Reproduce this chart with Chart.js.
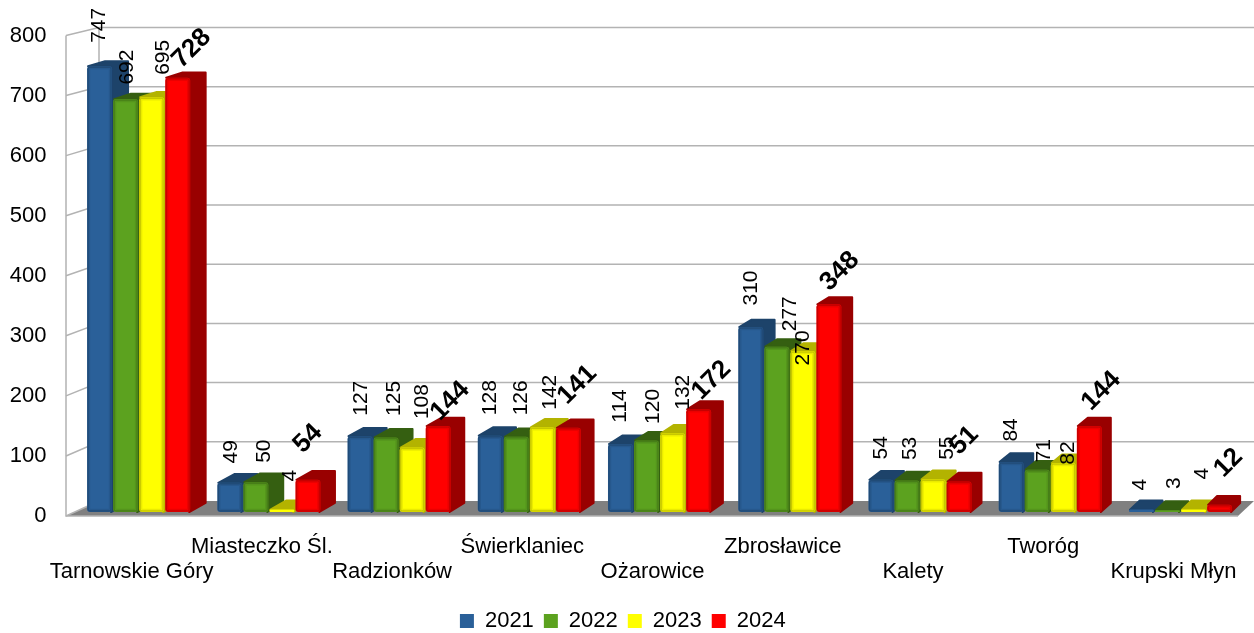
<!DOCTYPE html>
<html>
<head>
<meta charset="utf-8">
<style>
    html, body { margin: 0; padding: 0; background: #fff; }
    canvas { display: block; }
</style>
<script src="https://cdn.jsdelivr.net/npm/chart.js@4/dist/chart.umd.min.js"></script>
</head>
<body>
<canvas id="chart" width="1254" height="633"></canvas>
<script>
const categories = ['Tarnowskie Góry', 'Miasteczko Śl.', 'Radzionków', 'Świerklaniec', 'Ożarowice', 'Zbrosławice', 'Kalety', 'Tworóg', 'Krupski Młyn'];
const years = ['2021', '2022', '2023', '2024'];
const values2021 = [747, 49, 127, 128, 114, 310, 54, 84, 4];
const values2022 = [692, 50, 125, 126, 120, 277, 53, 71, 3];
const values2023 = [695, 4, 108, 142, 132, 270, 55, 82, 4];
const values2024 = [728, 54, 144, 141, 172, 348, 51, 144, 12];
const yTicks = [0, 100, 200, 300, 400, 500, 600, 700, 800];

const frontColors = ['#2a6099', '#5ca21f', '#ffff00', '#ff0000'];
const depthColors = ['#1d436a', '#355f11', '#b3b300', '#990000'];

// where the label sits relative to the top of its bar, one [dx, dy] per bar
const labelShift = [
    [[0, -41], [1, -31], [1, -38], [0, -38], [0, -38], [0, -39], [0, -32], [0, -32], [-1, -25]],
    [[2, -32], [8, -31], [8, -39], [5, -39], [7, -34], [13, -33], [3, -32], [7, -19], [7, -27]],
    [[12, -40], [8, -34], [10, -46], [8, -35], [11, -41], [0, -3], [14, -31], [5, -10], [9, -36]],
    [[14, -29], [0, -41], [12, -25], [9, -43], [13, -29], [11, -33], [5, -41], [12, -35], [9, -42]]
];

const wallFrontX = 66;
const wallBackX = 99;
const wallEndX = 1254;
const floorEndX = 1238;

// depth of a bar shrinks going right and going up
const depthX = (x) => 17 - 7 * (x - 112) / 986;
const depthY = (y) => 5 + 4 * (y - 65) / 445;
// the back wall sits above the front edge of the axis
const backY = (y) => y - (8 + 7 * (y - 34) / 480);

function drawWalls(chart) {
    const ctx = chart.ctx;
    const y = chart.scales.y;
    const zero = y.getPixelForValue(0);

    ctx.save();
    ctx.fillStyle = '#808080';
    ctx.beginPath();
    ctx.moveTo(wallFrontX, zero);
    ctx.lineTo(wallBackX, backY(zero));
    ctx.lineTo(wallEndX, backY(zero));
    ctx.lineTo(floorEndX, zero);
    ctx.closePath();
    ctx.fill();

    ctx.strokeStyle = '#b3b3b3';
    ctx.lineWidth = 1.5;
    yTicks.forEach(v => {
        const py = y.getPixelForValue(v);
        ctx.beginPath();
        ctx.moveTo(wallFrontX, py);
        ctx.lineTo(wallBackX, backY(py));
        if (v > 0) ctx.lineTo(wallEndX, backY(py));
        ctx.stroke();
    });
    ctx.beginPath();
    ctx.moveTo(wallFrontX, y.getPixelForValue(800));
    ctx.lineTo(wallFrontX, zero);
    ctx.lineTo(floorEndX, zero);
    ctx.moveTo(wallBackX, backY(y.getPixelForValue(800)));
    ctx.lineTo(wallBackX, backY(zero));
    ctx.stroke();
    ctx.restore();
}

function drawDepth(ctx, bar, color) {
    const { x, y, base, width } = bar.getProps(['x', 'y', 'base', 'width'], true);
    const left = x - width / 2 + 1;
    const right = x + width / 2 - 1;
    const dx = depthX(right);
    ctx.save();
    ctx.fillStyle = color;
    ctx.strokeStyle = color;
    ctx.lineWidth = 2;
    ctx.lineJoin = 'round';
    ctx.beginPath();
    ctx.moveTo(left, y);
    ctx.lineTo(left + dx, y - depthY(y));
    ctx.lineTo(right + dx, y - depthY(y));
    ctx.lineTo(right + dx, base - depthY(base));
    ctx.lineTo(right, base);
    ctx.lineTo(right, y);
    ctx.closePath();
    ctx.fill();
    ctx.stroke();
    ctx.restore();
}

// soft dark edge round the front of a bar
function drawEdge(ctx, bar) {
    const { x, y, base, width } = bar.getProps(['x', 'y', 'base', 'width'], true);
    if (base - y < 4) return;
    ctx.save();
    ctx.strokeStyle = 'rgba(0, 0, 0, 0.22)';
    ctx.lineWidth = 1.5;
    ctx.beginPath();
    ctx.roundRect(x - width / 2 + 1, y + 1, width - 2, base - y - 2, 2);
    ctx.stroke();
    ctx.strokeStyle = 'rgba(0, 0, 0, 0.08)';
    ctx.beginPath();
    ctx.roundRect(x - width / 2 + 2.5, y + 2.5, width - 5, base - y - 5, 1);
    ctx.stroke();
    ctx.restore();
}

// bars have to be painted left to right so each one covers the side of its neighbour
const barsPlugin = {
    id: 'bars3d',
    beforeDatasetDraw: () => false,
    beforeDatasetsDraw(chart) {
        drawWalls(chart);
        const ctx = chart.ctx;
        chart.data.datasets.forEach((ds, i) => {
            chart.getDatasetMeta(i).data.forEach(bar => {
                drawDepth(ctx, bar, depthColors[i]);
                bar.draw(ctx);
                drawEdge(ctx, bar);
            });
        });
    }
};

const labelPlugin = {
    id: 'barLabels',
    afterDatasetsDraw(chart) {
        const ctx = chart.ctx;
        ctx.save();
        ctx.fillStyle = '#000';
        ctx.textAlign = 'center';
        ctx.textBaseline = 'middle';
        chart.data.datasets.forEach((ds, i) => {
            const strong = i === 3;
            chart.getDatasetMeta(i).data.forEach((bar, j) => {
                const { x, y } = bar.getProps(['x', 'y'], true);
                const shift = labelShift[i][j];
                ctx.save();
                ctx.translate(x + shift[0], y + shift[1]);
                ctx.rotate(strong ? -Math.PI / 4 : -Math.PI / 2);
                ctx.font = strong ? 'bold 26px "Liberation Sans"' : '21px "Liberation Sans"';
                ctx.fillText(String(ds.data[j]), 0, 0);
                ctx.restore();
            });
        });
        ctx.restore();
    }
};

Chart.defaults.font.family = '"Liberation Sans", sans-serif';
Chart.defaults.font.size = 22;
Chart.defaults.color = '#000';

const seriesValues = [values2021, values2022, values2023, values2024];

new Chart(document.getElementById('chart').getContext('2d'), {
    type: 'bar',
    data: {
        labels: categories,
        datasets: years.map((year, i) => ({
            label: year,
            data: seriesValues[i],
            backgroundColor: frontColors[i],
            yAxisID: 'yBars',
            borderRadius: 3,
            borderSkipped: false,
            categoryPercentage: 0.8,
            barPercentage: 0.96
        }))
    },
    plugins: [barsPlugin, labelPlugin],
    options: {
        responsive: false,
        animation: false,
        layout: {
            padding: { top: 35.5, right: 8.4, bottom: -9, left: 0 }
        },
        plugins: {
            tooltip: { enabled: false },
            legend: {
                position: 'bottom',
                labels: {
                    boxWidth: 14,
                    boxHeight: 14,
                    padding: 10,
                    font: { size: 22 }
                }
            }
        },
        scales: {
            x: {
                grid: { display: false },
                border: { display: false },
                afterFit: (scale) => { scale.height = 84; },
                ticks: {
                    autoSkip: false,
                    maxRotation: 0,
                    minRotation: 0,
                    labelOffset: -7,
                    padding: 10,
                    font: { size: 22, lineHeight: 1.14 },
                    callback: function (value, index) {
                        const name = this.getLabelForValue(value);
                        return index % 2 === 0 ? ['', name] : [name, ''];
                    }
                }
            },
            y: {
                min: 0,
                max: 800,
                afterFit: (scale) => { scale.width = 73.5; },
                grid: { display: false },
                border: { display: false },
                ticks: {
                    stepSize: 100,
                    padding: 19,
                    font: { size: 22 }
                }
            },
            // the bars stand a little above the front edge of the floor
            yBars: {
                display: false,
                min: -6.7,
                max: 798.6
            }
        }
    }
});
</script>
</body>
</html>
